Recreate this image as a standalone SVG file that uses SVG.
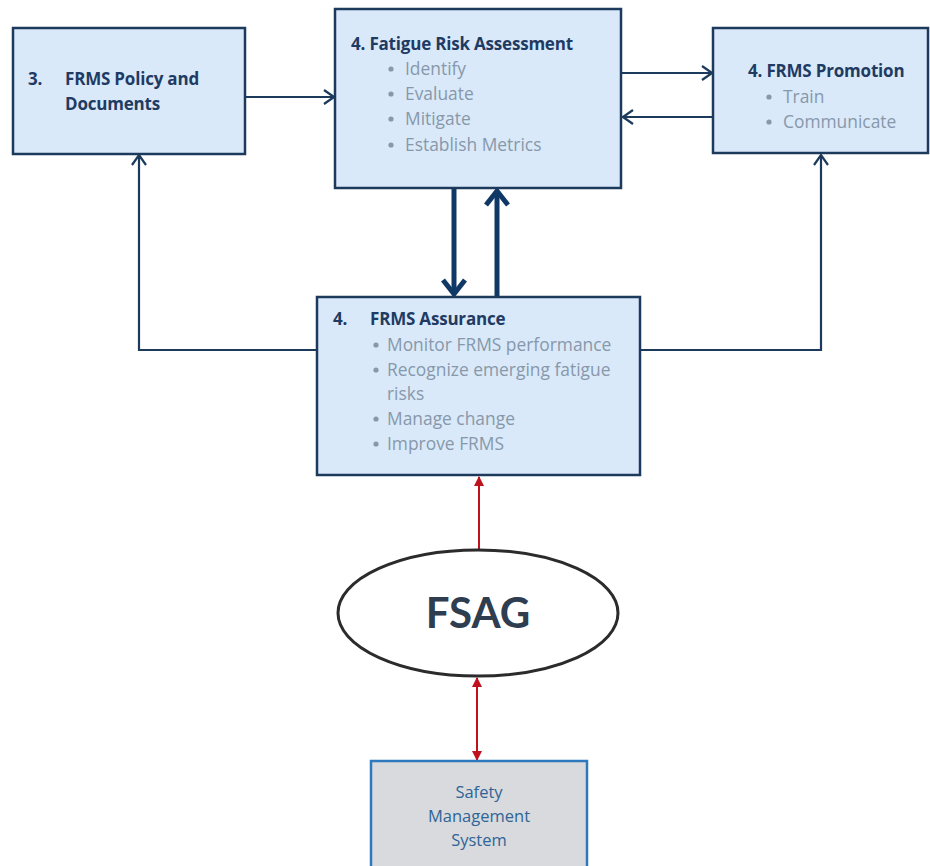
<svg xmlns="http://www.w3.org/2000/svg" width="930" height="866" viewBox="0 0 930 866">
  <style>
    .box { fill: #d9e9f9; stroke: #1c3a5c; stroke-width: 2.5; }
    .title { font-family: "Open Sans", Lato, sans-serif; font-weight: bold; font-size: 17px; fill: #1f3b63; letter-spacing: -0.2px; }
    .item { font-family: "Open Sans", Lato, sans-serif; font-size: 17.4px; fill: #8798aa; }
    .dot { fill: #8798aa; }
    .link { fill: none; stroke: #1c3a5c; stroke-width: 2.2; }
    .thick { fill: none; stroke: #0f3866; stroke-width: 5; }
    .red { fill: none; stroke: #c0121c; stroke-width: 2; }
    .sms { font-family: "Open Sans", Lato, sans-serif; font-size: 16.5px; fill: #2f6496; }
  </style>
  <defs>
    <marker id="chev" viewBox="0 0 12 16" refX="11" refY="8" markerWidth="12" markerHeight="16" markerUnits="userSpaceOnUse" orient="auto">
      <path d="M1,1 L11,8 L1,15" fill="none" stroke="#1c3a5c" stroke-width="2.2"/>
    </marker>
    <marker id="chevThick" viewBox="0 0 20 26" refX="17" refY="13" markerWidth="20" markerHeight="26" markerUnits="userSpaceOnUse" orient="auto">
      <path d="M3,2 L17,13 L3,24" fill="none" stroke="#0f3866" stroke-width="5"/>
    </marker>
    <marker id="redTip" viewBox="0 0 10 10" refX="9" refY="5" markerWidth="10" markerHeight="10" markerUnits="userSpaceOnUse" orient="auto-start-reverse">
      <path d="M0,0 L10,5 L0,10 Z" fill="#c0121c"/>
    </marker>
  </defs>

  <rect width="930" height="866" fill="#ffffff"/>

  <g id="connectors">
    <path class="link" d="M245,97 H334" marker-end="url(#chev)"/>
    <path class="link" d="M622,73 H712" marker-end="url(#chev)"/>
    <path class="link" d="M713,117 H623" marker-end="url(#chev)"/>
    <path class="link" d="M317,350 H139 V155" marker-end="url(#chev)"/>
    <path class="link" d="M640,350 H821 V155" marker-end="url(#chev)"/>
    <path class="thick" d="M454,188 V294" marker-end="url(#chevThick)"/>
    <path class="thick" d="M497,297 V191" marker-end="url(#chevThick)"/>
    <path class="red" d="M479,550 V477" marker-end="url(#redTip)"/>
    <path class="red" d="M477,678 V760" marker-start="url(#redTip)" marker-end="url(#redTip)"/>
  </g>

  <g id="policy">
    <rect class="box" x="13" y="28" width="232" height="126"/>
    <text class="title" x="28" y="85">3.</text>
    <text class="title" x="65" y="85">FRMS Policy and</text>
    <text class="title" x="65" y="110">Documents</text>
  </g>

  <g id="risk-assessment">
    <rect class="box" x="335" y="9" width="286" height="179"/>
    <text class="title" x="351" y="50">4. Fatigue Risk Assessment</text>
    <circle class="dot" cx="391" cy="69" r="2.6"/>
    <text class="item" x="405" y="75">Identify</text>
    <circle class="dot" cx="391" cy="94" r="2.6"/>
    <text class="item" x="405" y="100">Evaluate</text>
    <circle class="dot" cx="391" cy="119" r="2.6"/>
    <text class="item" x="405" y="125">Mitigate</text>
    <circle class="dot" cx="391" cy="145" r="2.6"/>
    <text class="item" x="405" y="151">Establish Metrics</text>
  </g>

  <g id="promotion">
    <rect class="box" x="713" y="28" width="215" height="125"/>
    <text class="title" x="748" y="77">4. FRMS Promotion</text>
    <circle class="dot" cx="769" cy="97" r="2.6"/>
    <text class="item" x="783" y="103">Train</text>
    <circle class="dot" cx="769" cy="122" r="2.6"/>
    <text class="item" x="783" y="128">Communicate</text>
  </g>

  <g id="assurance">
    <rect class="box" x="317" y="297" width="323" height="178"/>
    <text class="title" x="333" y="325">4.</text>
    <text class="title" x="370" y="325">FRMS Assurance</text>
    <circle class="dot" cx="376" cy="345" r="2.6"/>
    <text class="item" x="387" y="351">Monitor FRMS performance</text>
    <circle class="dot" cx="376" cy="370" r="2.6"/>
    <text class="item" x="387" y="376">Recognize emerging fatigue</text>
    <text class="item" x="387" y="400">risks</text>
    <circle class="dot" cx="376" cy="419" r="2.6"/>
    <text class="item" x="387" y="425">Manage change</text>
    <circle class="dot" cx="376" cy="444" r="2.6"/>
    <text class="item" x="387" y="450">Improve FRMS</text>
  </g>

  <g id="fsag">
    <ellipse cx="478" cy="613" rx="140" ry="63" fill="#ffffff" stroke="#2b2b2b" stroke-width="3"/>
    <text x="478" y="628" text-anchor="middle" font-family="Lato, 'Open Sans', sans-serif" font-weight="bold" font-size="42" fill="#2e3d4f">FSAG</text>
  </g>

  <g id="sms">
    <rect x="371" y="761" width="216" height="110" fill="#d8dadd" stroke="#2e78bd" stroke-width="2.5"/>
    <text class="sms" x="479" y="798" text-anchor="middle">Safety</text>
    <text class="sms" x="479" y="822" text-anchor="middle">Management</text>
    <text class="sms" x="479" y="846" text-anchor="middle">System</text>
  </g>
</svg>
